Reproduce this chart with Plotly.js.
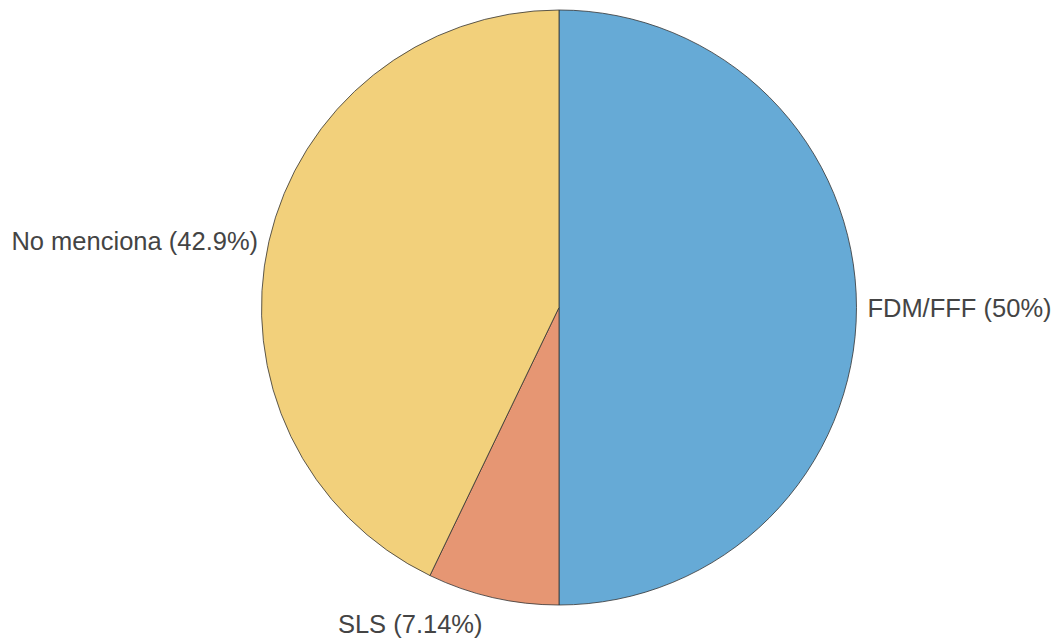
<!DOCTYPE html>
<html>
<head>
<meta charset="utf-8">
<script src="https://cdn.plot.ly/plotly-3.0.1.min.js"></script>
<style>html,body{margin:0;padding:0;background:#fff;}#chart{width:1060px;height:642px;}</style>
</head>
<body>
<div id="chart"></div>
<script>
const categories = ["FDM/FFF", "SLS", "No menciona"];
const counts = [7, 1, 6];
const colors = ["#66aad6", "#e69673", "#f2d07b"];

// label templates (small invisible spacers nudge the outside labels away from the pie)
const templates = [
  "<span style='font-size:14px'>\u00a0</span>%{label} (%{percent})",
  "<span style='font-size:3px'>\u00a0</span><br>%{label} (%{percent})",
  "%{label} (%{percent})<span style='font-size:14px'>\u00a0</span>"
];

Plotly.newPlot("chart", [{
  type: "pie",
  labels: categories,
  values: counts,
  sort: false,
  direction: "clockwise",
  rotation: 0,
  marker: {colors: colors, line: {color: "#333333", width: 0.8}},
  textposition: "outside",
  texttemplate: templates,
  textfont: {family: "Liberation Sans, Arial, sans-serif", size: 25.5, color: "#444444"},
  hoverinfo: "label+percent",
  domain: {x: [0.0547, 1], y: [0, 1]},
  automargin: false
}], {
  width: 1060, height: 642,
  margin: {l: 0, r: 0, t: 10, b: 37},
  showlegend: false,
  paper_bgcolor: "#ffffff",
  plot_bgcolor: "#ffffff"
}, {staticPlot: true});
</script>
</body>
</html>
